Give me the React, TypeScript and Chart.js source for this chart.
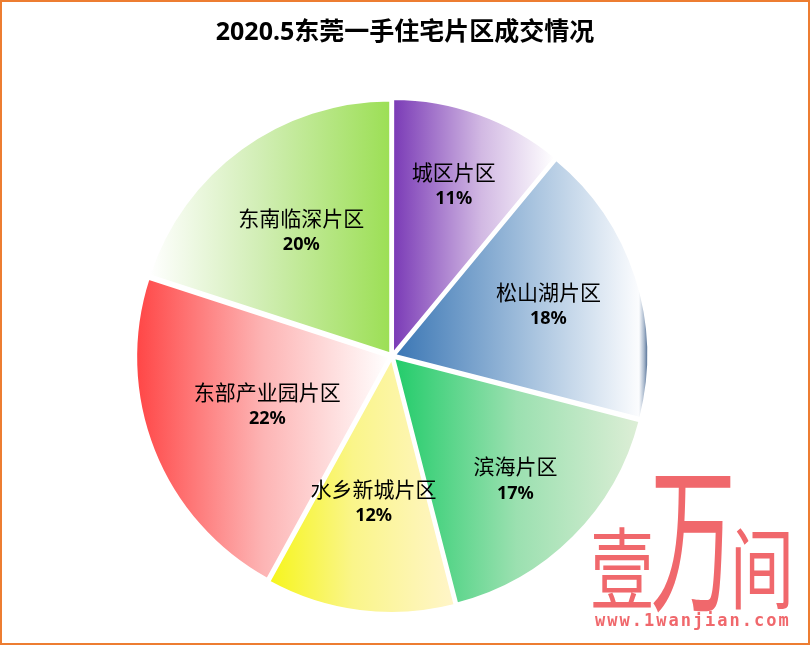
import React, { useEffect, useRef } from 'react';
import { Chart, registerables } from 'chart.js';

Chart.register(...registerables);

// ---- data ----
const TITLE = '2020.5东莞一手住宅片区成交情况';
const CATEGORIES = ['城区片区', '松山湖片区', '滨海片区', '水乡新城片区', '东部产业园片区', '东南临深片区'];
const VALUES = [11, 18, 17, 12, 22, 20];
const PERCENT_LABELS = ['11%', '18%', '17%', '12%', '22%', '20%'];
const WATERMARK = '壹万间';
const WATERMARK_URL = 'www.1wanjian.com';

// ---- style ----
const GRADIENTS: [number, string][][] = [
  [[0, '#7A3AB6'], [0.55, '#D2B9E3'], [1, '#FFFFFF']],
  [[0, '#3A76B4'], [0.55, '#A9C4DF'], [0.965, '#FBFCFE'], [0.985, '#A8B8CC'], [1, '#4A6890']],
  [[0, '#22CC6A'], [0.5, '#9BE0B0'], [1, '#DDEED6']],
  [[0, '#F6F51C'], [0.45, '#FAF58A'], [1, '#FFF5C9']],
  [[0, '#FF4646'], [0.5, '#FDB4B4'], [1, '#FFFFFF']],
  [[0, '#FFFFFF'], [0.45, '#D2EEB6'], [1, '#9CDF55']],
];
const LABEL_RADIUS = [0.72, 0.65, 0.69, 0.58, 0.53, 0.61];
const OFFSET = 12;
const BORDER = 2;
const PINK = '#F0686C';

function sectorXRange(cx: number, R: number, a0: number, a1: number): [number, number] {
  const xs = [cx, cx + R * Math.sin(a0), cx + R * Math.sin(a1)];
  for (const k of [Math.PI / 2, (3 * Math.PI) / 2]) {
    if (k > a0 && k < a1) xs.push(cx + R * Math.sin(k));
  }
  return [Math.min(...xs), Math.max(...xs)];
}

function sliceGradient(c: any) {
  const i = c.dataIndex;
  const stops = GRADIENTS[i] || GRADIENTS[0];
  const chart = c.chart;
  const area = chart.chartArea;
  if (!area) return stops[0][1];
  const cx = (area.left + area.right) / 2;
  const R = (Math.min(area.right - area.left, area.bottom - area.top) - OFFSET - BORDER) / 2;
  const total = VALUES.reduce((s, v) => s + v, 0);
  let acc = 0;
  for (let k = 0; k < i; k++) acc += VALUES[k];
  const a0 = (acc / total) * Math.PI * 2;
  const a1 = ((acc + VALUES[i]) / total) * Math.PI * 2;
  const [x0, x1] = sectorXRange(cx, R, a0, a1);
  const g = chart.ctx.createLinearGradient(x0, 0, x1, 0);
  stops.forEach(([p, col]) => g.addColorStop(p, col));
  return g;
}

const chartTitle = {
  id: 'chartTitle',
  afterDraw(chart: any) {
    const ctx = chart.ctx;
    ctx.save();
    ctx.fillStyle = '#000000';
    ctx.textAlign = 'center';
    ctx.textBaseline = 'middle';
    ctx.font = 'bold 25px "Noto Sans", "Noto Sans CJK SC", sans-serif';
    ctx.fillText(TITLE, chart.width / 2, 31);
    ctx.restore();
  },
};

const sliceLabels = {
  id: 'sliceLabels',
  afterDatasetsDraw(chart: any) {
    const ctx = chart.ctx;
    const meta = chart.getDatasetMeta(0);
    meta.data.forEach((arc: any, i: number) => {
      const { x, y, startAngle, endAngle, outerRadius } = arc.getProps(
        ['x', 'y', 'startAngle', 'endAngle', 'outerRadius'],
        true
      );
      const mid = (startAngle + endAngle) / 2;
      const r = outerRadius * LABEL_RADIUS[i];
      const px = x + Math.cos(mid) * r;
      const py = y + Math.sin(mid) * r;
      ctx.save();
      ctx.fillStyle = '#000000';
      ctx.textAlign = 'center';
      ctx.textBaseline = 'middle';
      ctx.font = '21px "Noto Sans CJK SC", sans-serif';
      ctx.fillText(CATEGORIES[i], px, py - 13);
      ctx.font = 'bold 18px "Noto Sans", "Noto Sans CJK SC", sans-serif';
      ctx.fillText(PERCENT_LABELS[i], px, py + 14);
      ctx.restore();
    });
  },
};

const watermark = {
  id: 'watermark',
  afterDraw(chart: any) {
    const ctx = chart.ctx;
    ctx.save();
    ctx.fillStyle = PINK;
    ctx.textAlign = 'center';
    ctx.textBaseline = 'alphabetic';
    const chars = Array.from(WATERMARK);
    // 壹
    ctx.save();
    ctx.translate(620, 600);
    ctx.scale(1, 1.38);
    ctx.font = '64px "Noto Sans CJK SC", sans-serif';
    ctx.fillText(chars[0], 0, 0);
    ctx.restore();
    // 万 (tall)
    ctx.save();
    ctx.translate(691, 597);
    ctx.scale(1.25, 2.35);
    ctx.font = '68px "Noto Sans CJK SC", sans-serif';
    ctx.fillText(chars[1], 0, 0);
    ctx.restore();
    // 间
    ctx.save();
    ctx.translate(760, 600);
    ctx.scale(1, 1.38);
    ctx.font = '64px "Noto Sans CJK SC", sans-serif';
    ctx.fillText(chars[2], 0, 0);
    ctx.restore();
    // url
    ctx.font = 'bold 17px "DejaVu Sans Mono", monospace';
    (ctx as any).letterSpacing = '2px';
    ctx.textAlign = 'left';
    ctx.fillText(WATERMARK_URL, 593, 624);
    ctx.restore();
  },
};

export default function App() {
  const ref = useRef<HTMLCanvasElement>(null);
  useEffect(() => {
    if (!ref.current) return;
    const chart = new Chart(ref.current, {
      type: 'pie',
      data: {
        labels: CATEGORIES,
        datasets: [
          {
            data: VALUES,
            backgroundColor: sliceGradient as any,
            borderColor: '#FFFFFF',
            borderWidth: BORDER,
            offset: OFFSET,
            hoverOffset: 0,
          },
        ],
      },
      options: {
        responsive: false,
        animation: false,
        events: [],
        layout: { padding: { top: 94, bottom: 27, left: 0, right: 26 } },
        plugins: {
          legend: { display: false },
          tooltip: { enabled: false },
          title: { display: false },
        },
      },
      plugins: [sliceLabels, watermark, chartTitle],
    });
    return () => chart.destroy();
  }, []);
  return (
    <div
      style={{
        position: 'absolute',
        left: 0,
        top: 0,
        width: 810,
        height: 645,
        boxSizing: 'border-box',
        border: '2px solid #ED7D31',
        background: '#FFFFFF',
      }}
    >
      <canvas ref={ref} width={806} height={641} style={{ display: 'block' }} />
    </div>
  );
}
